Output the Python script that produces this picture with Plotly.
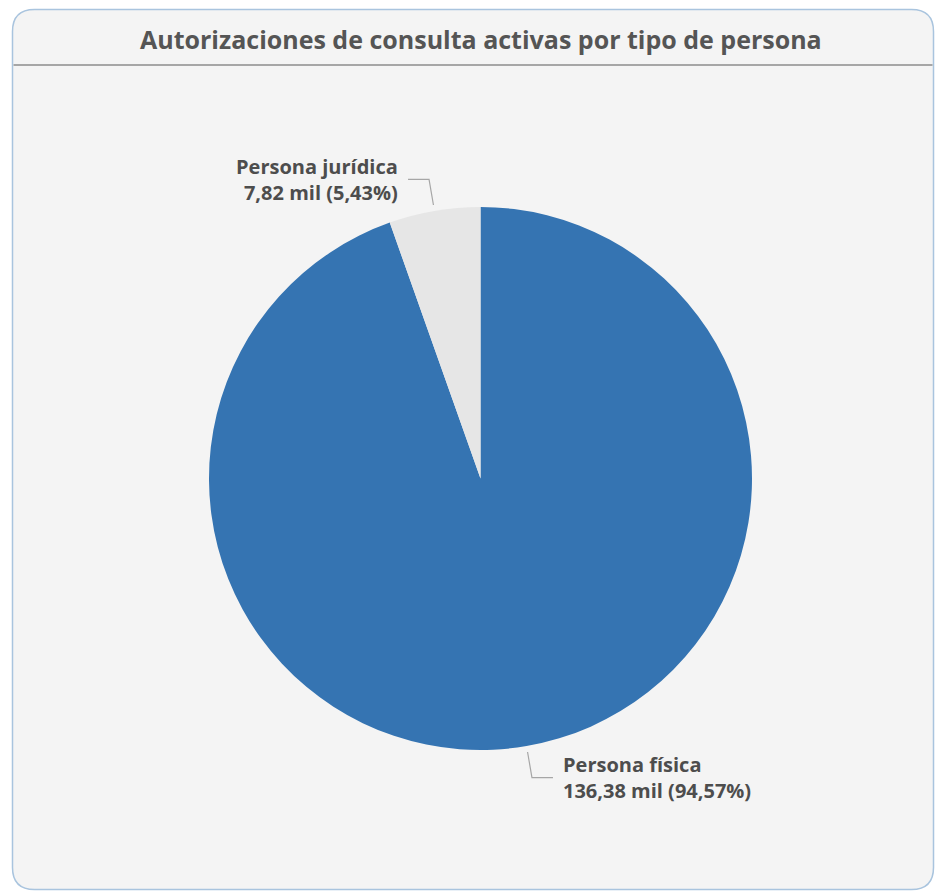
import plotly.graph_objects as go
import math

categories = ["Persona física", "Persona jurídica"]
values = [136.38, 7.82]          # miles
value_labels = ["136,38 mil", "7,82 mil"]
pct_labels = ["94,57%", "5,43%"]
colors = ["#3574b2", "#e6e6e6"]
title = "Autorizaciones de consulta activas por tipo de persona"

W, H = 935, 892
cx, cy, R = 480.5, 478.5, 271.5

def px(x):
    return x / W

def py(y):
    return 1 - y / H

fig = go.Figure()
fig.add_trace(go.Pie(
    labels=categories, values=values, sort=False, direction="clockwise",
    rotation=0, textinfo="none", hoverinfo="label+value+percent",
    marker=dict(colors=colors, line=dict(width=0)),
    domain=dict(x=[px(cx - R), px(cx + R)], y=[py(cy + R), py(cy - R)]),
    showlegend=False,
))

# Panel background with rounded corners
x0, y0, x1, y1, r = 12.5, 9.5, 933.5, 889.5, 22
path = (f"M {px(x0+r)},{py(y0)} L {px(x1-r)},{py(y0)} "
        f"Q {px(x1)},{py(y0)} {px(x1)},{py(y0+r)} "
        f"L {px(x1)},{py(y1-r)} Q {px(x1)},{py(y1)} {px(x1-r)},{py(y1)} "
        f"L {px(x0+r)},{py(y1)} Q {px(x0)},{py(y1)} {px(x0)},{py(y1-r)} "
        f"L {px(x0)},{py(y0+r)} Q {px(x0)},{py(y0)} {px(x0+r)},{py(y0)} Z")
shapes = [
    dict(type="path", path=path, xref="paper", yref="paper",
         fillcolor="#f4f4f4", line=dict(color="#a9c4de", width=1.5), layer="below"),
    dict(type="line", xref="paper", yref="paper", x0=px(x0+1), x1=px(x1-1),
         y0=py(65), y1=py(65), line=dict(color="#a6a6a6", width=2)),
]

# Labels with leader lines, placed from slice mid-angles
total = sum(values)
annotations = [dict(text=f"<b>{title}</b>", x=px(481), y=py(39), xref="paper", yref="paper",
                    showarrow=False, font=dict(family="Open Sans", size=25, color="#555555"),
                    xanchor="center", yanchor="middle")]
cum = 0
for i, v in enumerate(values):
    mid = (cum + v / 2) / total * 2 * math.pi  # clockwise from 12 o'clock
    cum += v
    sx, sy = math.sin(mid), -math.cos(mid)
    ex, ey = cx + (R + 6) * sx, cy + (R + 6) * sy
    ox, oy = cx + (R + 32) * sx, cy + (R + 32) * sy
    side = 1 if sx >= 0 else -1
    hx = ox + side * 21
    shapes.append(dict(type="path", xref="paper", yref="paper",
                       path=f"M {px(ex)},{py(ey)} L {px(ox)},{py(oy)} L {px(hx)},{py(oy)}",
                       line=dict(color="#a6a6a6", width=1.2)))
    tx = hx + side * 8
    annotations.append(dict(
        text=f"<b>{categories[i]}</b><br><b>{value_labels[i]} ({pct_labels[i]})</b>",
        x=px(tx), y=py(oy), xref="paper", yref="paper", showarrow=False,
        xanchor="left" if side > 0 else "right", yanchor="middle",
        align="left" if side > 0 else "right",
        font=dict(family="Open Sans", size=20, color="#4d4d4d")))

fig.update_layout(
    width=W, height=H, margin=dict(l=0, r=0, t=0, b=0),
    paper_bgcolor="white", plot_bgcolor="white",
    shapes=shapes, annotations=annotations,
)
fig.write_html("out.html", config={"displayModeBar": False},
               post_script="document.body.style.margin='0';document.body.style.overflow='hidden';")
